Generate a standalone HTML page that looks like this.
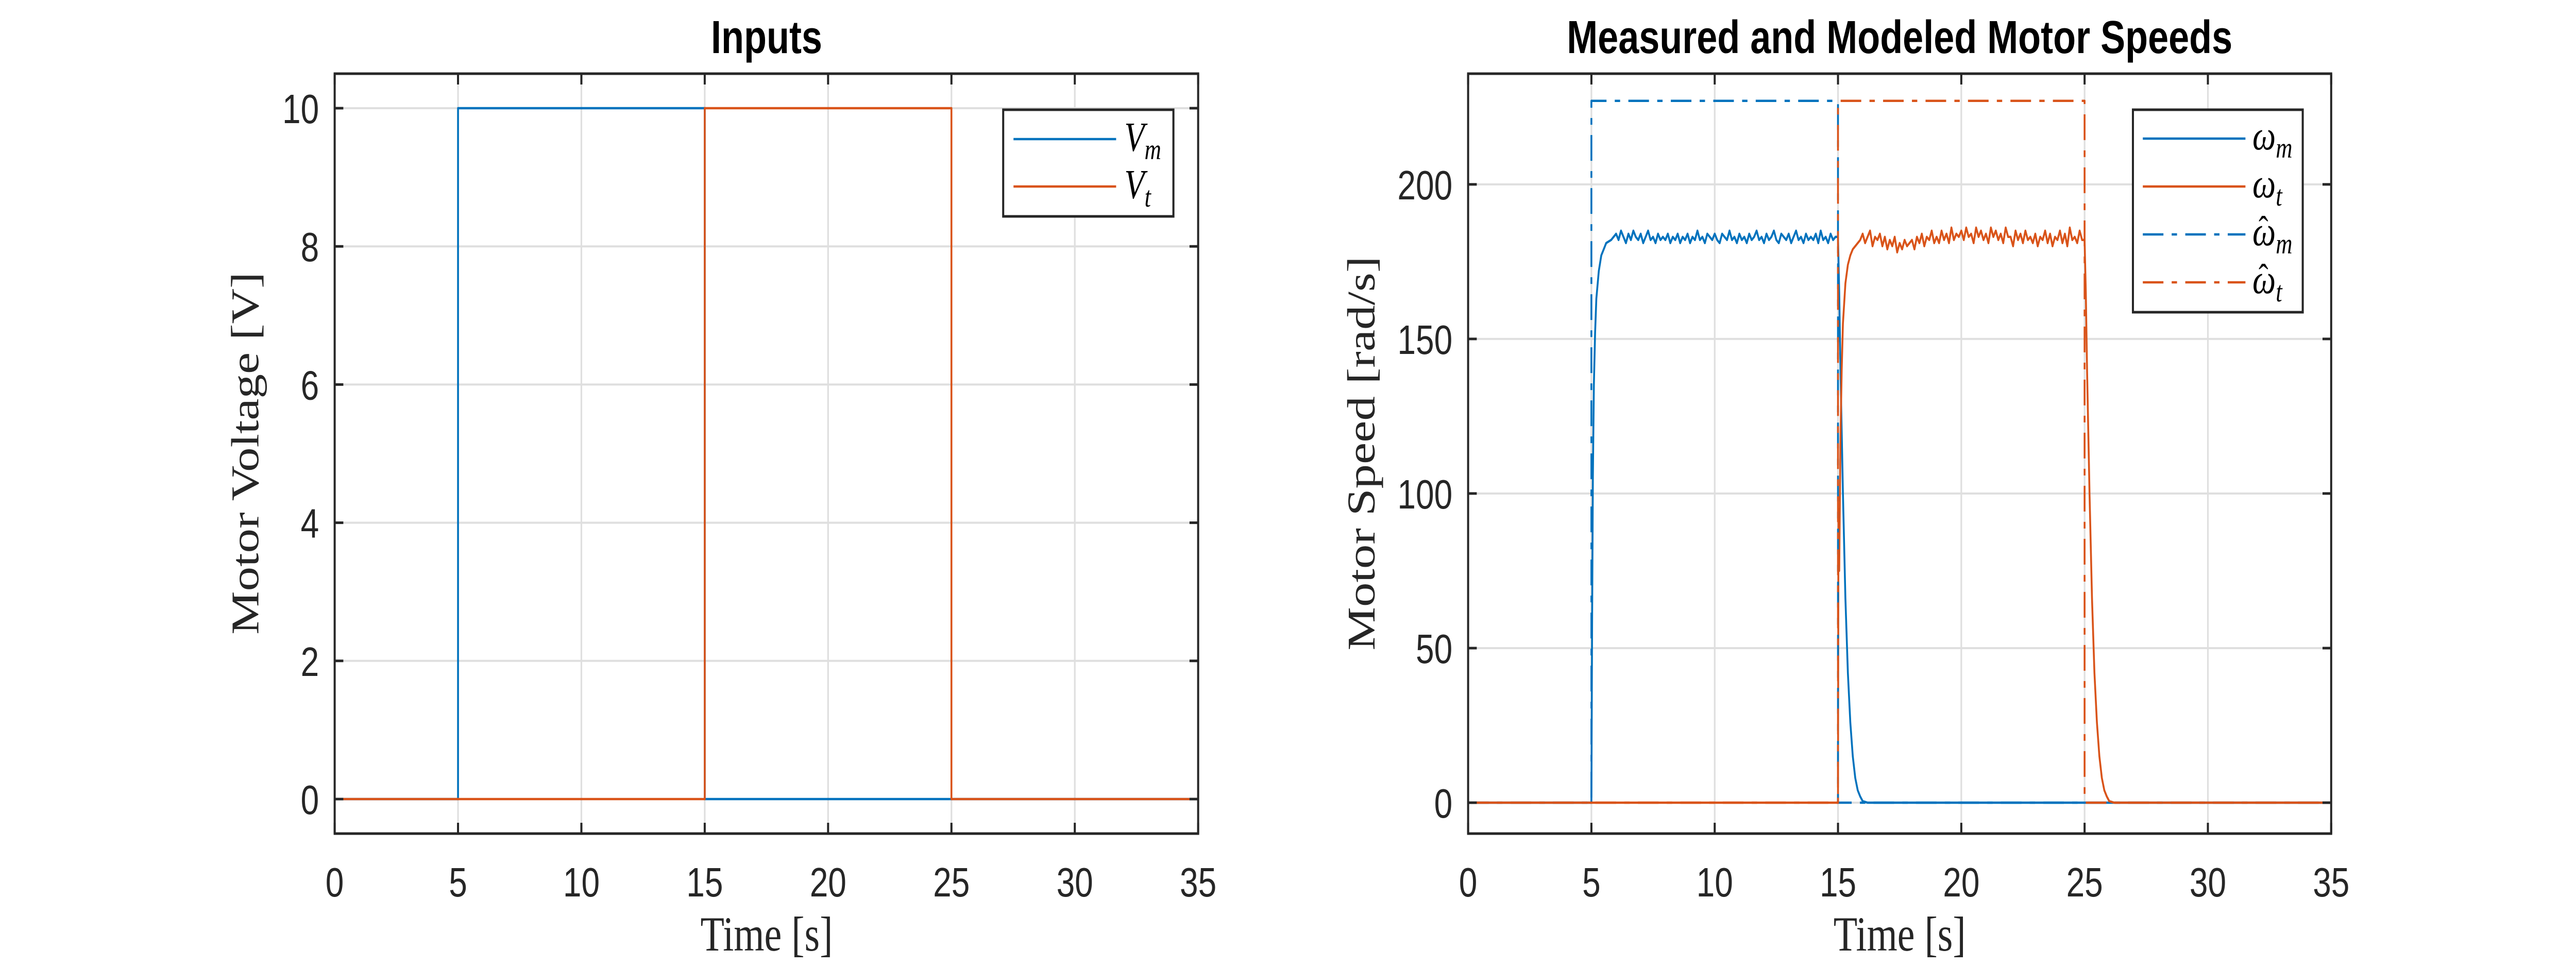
<!DOCTYPE html>
<html><head><meta charset="utf-8"><style>
html,body{margin:0;padding:0;background:#fff;width:100%;height:100%;overflow:hidden;}
svg{display:block;width:100vw;height:100vh;}
.tick{font-family:"Liberation Sans",sans-serif;font-size:80px;fill:#262626;}
.ttl{font-family:"Liberation Sans",sans-serif;font-size:90px;font-weight:bold;fill:#000;}
.lab{font-family:"Liberation Serif",serif;font-size:95px;fill:#262626;}
.leg{font-family:"Liberation Serif",serif;font-size:80px;font-style:italic;fill:#000;}
.hat{font-family:"Liberation Serif",serif;font-size:70px;fill:#000;}
</style></head><body>
<svg id="fig" xmlns="http://www.w3.org/2000/svg" viewBox="0 0 6250 1875" preserveAspectRatio="none">
<rect width="6250" height="1875" fill="#fff"/>
<g id="ax1"></g>
<g id="ax2"></g>
<text class="ttl" x="1860" y="103" text-anchor="middle">Inputs</text>
<text class="ttl" x="4609" y="103" text-anchor="middle">Measured and Modeled Motor Speeds</text>
<text class="lab" x="1860" y="1845" text-anchor="middle">Time [s]</text>
<text class="lab" x="4609" y="1845" text-anchor="middle">Time [s]</text>
<text class="lab" transform="translate(627,880) rotate(-90)" text-anchor="middle">Motor Voltage [V]</text>
<text class="lab" transform="translate(3335,880) rotate(-90)" text-anchor="middle">Motor Speed [rad/s]</text>
<g>
  <rect x="2434" y="213" width="413" height="207" fill="#fff" stroke="#262626" stroke-width="5"/>
  <line x1="2459" x2="2708" y1="270" y2="270" stroke="#0072BD" stroke-width="4.5"/>
  <line x1="2459" x2="2708" y1="362" y2="362" stroke="#D95319" stroke-width="4.5"/>
  <text class="leg" x="2728" y="293">V<tspan font-size="56" dy="16">m</tspan></text>
  <text class="leg" x="2728" y="385">V<tspan font-size="56" dy="16">t</tspan></text>
</g>
<g>
  <rect x="5175" y="213" width="412" height="393" fill="#fff" stroke="#262626" stroke-width="5"/>
  <line x1="5199" x2="5448" y1="269" y2="269" stroke="#0072BD" stroke-width="4.5"/>
  <line x1="5199" x2="5448" y1="362" y2="362" stroke="#D95319" stroke-width="4.5"/>
  <line x1="5199" x2="5448" y1="455" y2="455" stroke="#0072BD" stroke-width="4.5" stroke-dasharray="50 20 13 20"/>
  <line x1="5199" x2="5448" y1="548" y2="548" stroke="#D95319" stroke-width="4.5" stroke-dasharray="50 20 13 20"/>
  <text class="leg" x="5465" y="290">ω<tspan font-size="56" dy="16">m</tspan></text>
  <text class="leg" x="5465" y="383">ω<tspan font-size="56" dy="16">t</tspan></text>
  <text class="leg" x="5465" y="476">ω<tspan font-size="56" dy="16">m</tspan></text>
  <text class="hat" x="5480" y="468">ˆ</text>
  <text class="leg" x="5465" y="569">ω<tspan font-size="56" dy="16">t</tspan></text>
  <text class="hat" x="5480" y="561">ˆ</text>
</g>
</svg>
<script>
// ---- data ----
const xTicks = [0,5,10,15,20,25,30,35];
const yTicks1 = [0,2,4,6,8,10];
const yTicks2 = [0,50,100,150,200];
const vmT = [0,5,5,15,15,35];
const vmV = [0,0,10,10,0,0];
const vtT = [0,15,15,25,25,35];
const vtV = [0,0,10,10,0,0];
const whatMT = [0,5,5,15,15,35];
const whatMV = [0,0,227,227,0,0];
const whatTT = [0,15,15,25,25,35];
const whatTV = [0,0,227,227,0,0];
const wmRiseT = [0,5,5.03,5.06,5.1,5.15,5.2,5.3,5.4,5.5,5.6,5.8,5.9];
const wmRiseV = [0,0,60,105,135,152,163,172,177,179,181,182,183];
const wmPlat = [184,182,185,183,181,184,182,185,183,182,184,181,183,185,182,183,181,184,182,183,182,184,181,183,182,184,181,183,182,184,181,183,182,185,182,183,181,184,183,182,184,182,181,184,183,182,185,182,183,181,184,182,183,181,184,182,183,185,182,183,181,184,182,183,185,182,181,184,183,182,184,181,183,185,182,183,181,184,182,183,182,184,181,185,182,183,181,184,182,183];
const wmFallT = [15,15.05,15.1,15.2,15.3,15.4,15.5,15.6,15.7,15.8,15.9,16.0,16.2,35];
const wmFallV = [183,165,140,100,66,42,26,15,8,4,2,0.5,0,0];
const wtRiseT = [0,15,15.02,15.05,15.1,15.15,15.2,15.3,15.4,15.5,15.6,15.8,15.9];
const wtRiseV = [0,0,95,75,118,140,155,168,174,177,179,181,182];
const wtPlat = [184,181,183,185,180,183,182,184,180,183,179,182,180,183,178,181,179,182,180,181,182,179,183,181,184,180,183,182,185,181,183,181,185,182,184,181,186,182,184,183,185,182,186,183,184,181,186,183,185,182,184,181,186,183,185,182,184,181,186,183,183,180,185,182,184,181,185,182,183,181,184,180,183,182,185,181,184,180,183,182,185,181,184,180,186,182,183,181,185,182];
const wtFallT = [25,25.05,25.1,25.2,25.3,25.4,25.5,25.6,25.7,25.8,25.9,26.0,26.2,35];
const wtFallV = [182,165,140,100,66,42,26,15,8,4,2,0.5,0,0];

const BLUE="#0072BD", ORANGE="#D95319";
const NS="http://www.w3.org/2000/svg";
function mk(tag, attrs, parent){const e=document.createElementNS(NS,tag);for(const k in attrs)e.setAttribute(k,attrs[k]);parent.appendChild(e);return e;}

function makeAxes(x0, x1, y0, y1, xmin, xmax, ymin, ymax){
  const sx=v=>x0+(v-xmin)/(xmax-xmin)*(x1-x0);
  const sy=v=>y1-(v-ymin)/(ymax-ymin)*(y1-y0);
  return {sx,sy};
}
function drawGrid(g, A, x0,x1,y0,y1, yt){
  xTicks.forEach(t=>{
    const l=mk('line',{x1:A.sx(t),x2:A.sx(t),y1:y0,y2:y1,stroke:'#dfdfdf','stroke-width':4},g);
    
    
  });
  yt.forEach(t=>{
    const l=mk('line',{x1:x0,x2:x1,y1:A.sy(t),y2:A.sy(t),stroke:'#dfdfdf','stroke-width':4},g);
    
    
  });
}
function drawFrame(g, A, x0,x1,y0,y1, yt){
  const r=mk('rect',{x:x0,y:y0,width:x1-x0,height:y1-y0,fill:'none',stroke:'#262626','stroke-width':5},g);
  
  
  const L=21;
  xTicks.forEach(t=>{
    const x=A.sx(t);
    mk('line',{x1:x,x2:x,y1:y1,y2:y1-L,stroke:'#262626','stroke-width':5},g);
    mk('line',{x1:x,x2:x,y1:y0,y2:y0+L,stroke:'#262626','stroke-width':5},g);
    const tx=mk('text',{x:x,y:1740,'text-anchor':'middle',class:'tick'},g);
    tx.textContent=t;
    
    
  });
  yt.forEach(t=>{
    const y=A.sy(t);
    mk('line',{x1:x0,x2:x0+L,y1:y,y2:y,stroke:'#262626','stroke-width':5},g);
    mk('line',{x1:x1,x2:x1-L,y1:y,y2:y,stroke:'#262626','stroke-width':5},g);
    const tx=mk('text',{x:x0-38,y:y+29,'text-anchor':'end',class:'tick'},g);
    tx.textContent=t;
    
    
  });
}
function series(g, A, T, V, color, dash, name){
  const d=T.map((t,i)=>(i?'L':'M')+A.sx(t).toFixed(1)+' '+A.sy(V[i]).toFixed(1)).join(' ');
  const p=mk('path',{d:d,fill:'none',stroke:color,'stroke-width':4.5,'stroke-linejoin':'round'},g);
  if(dash)p.setAttribute('stroke-dasharray',dash);
  
  
}
function plat(start, vals){return vals.map((v,i)=>start+i*0.1);}

// ---- left axes ----
const g1=document.getElementById('ax1');
const L0=812,L1=2907,T0=143,B0=1618;
const A1=makeAxes(L0,L1,T0,B0,0,35,-0.5,10.5);
drawGrid(g1,A1,L0,L1,T0,B0,yTicks1);
series(g1,A1,vmT,vmV,BLUE,null,'vm-line');
series(g1,A1,vtT,vtV,ORANGE,null,'vt-line');
drawFrame(g1,A1,L0,L1,T0,B0,yTicks1);

// ---- right axes ----
const g2=document.getElementById('ax2');
const R0=3562,R1=5656;
const A2=makeAxes(R0,R1,T0,B0,0,35,-10,235.8);
drawGrid(g2,A2,R0,R1,T0,B0,yTicks2);
const wmT=wmRiseT.concat(plat(6.0,wmPlat),wmFallT);
const wmV=wmRiseV.concat(wmPlat,wmFallV);
const wtT=wtRiseT.concat(plat(16.0,wtPlat),wtFallT);
const wtV=wtRiseV.concat(wtPlat,wtFallV);
series(g2,A2,wmT,wmV,BLUE,null,'omega-m-line');
series(g2,A2,wtT,wtV,ORANGE,null,'omega-t-line');
series(g2,A2,whatMT,whatMV,BLUE,'50 20 13 20','omega-hat-m-line');
series(g2,A2,whatTT,whatTV,ORANGE,'50 20 13 20','omega-hat-t-line');
drawFrame(g2,A2,R0,R1,T0,B0,yTicks2);
</script>
</body></html>
